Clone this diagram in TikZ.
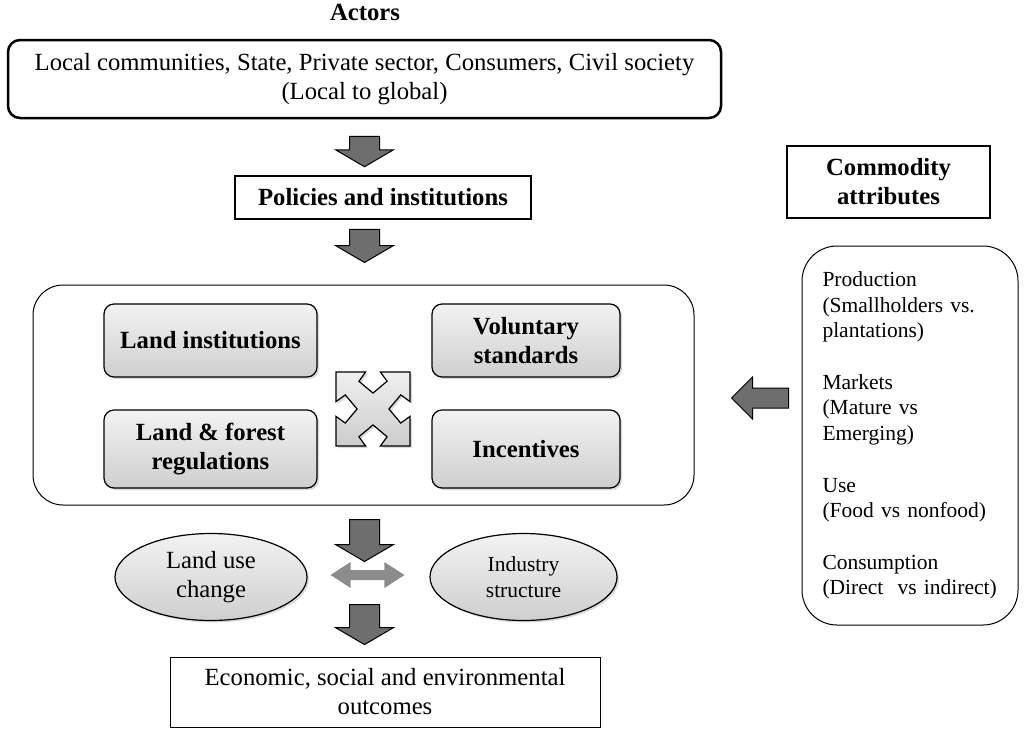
\documentclass[tikz,border=0pt]{standalone}
\usepackage{fontspec}
\setmainfont{Liberation Serif}
\usepackage{tikz}
\usetikzlibrary{shapes,calc,shadows}
\definecolor{arrowgray}{RGB}{110,110,110}
\definecolor{dblgray}{RGB}{140,140,140}
\tikzset{
  thickbox/.style={draw,line width=2.5pt,align=center,inner sep=2pt},
  graybox/.style={draw,line width=1.2pt,rounded corners=10pt,align=center,
    top color=gray!10,bottom color=gray!38,
    drop shadow={shadow xshift=2pt,shadow yshift=-2pt,opacity=0.3}},
  grayellipse/.style={ellipse,draw,line width=1.2pt,align=center,inner sep=0pt,
    top color=gray!10,bottom color=gray!38,
    drop shadow={shadow xshift=2pt,shadow yshift=-2pt,opacity=0.3}},
  blockarrow/.style={fill=arrowgray,draw=black,line width=1pt,line join=miter},
  bigfont/.style={font=\fontsize{24.7}{29}\selectfont},
  midfont/.style={font=\fontsize{21.5}{25.7}\selectfont},
}
% down pointing block arrow from #1 (top of shaft) to #2 (tip)
\newcommand{\blockdown}[2]{%
  \draw[blockarrow] ($(#1)+(-15,0)$) -- ($(#1)+(15,0)$) -- ($(#2)+(15,-17)$)
    -- ($(#2)+(29,-17)$) -- (#2) -- ($(#2)+(-29,-17)$) -- ($(#2)+(-15,-17)$) -- cycle;}

\begin{document}
\begin{tikzpicture}[x=1pt,y=-1pt]
        \useasboundingbox (0,0) rectangle (1024,734);

        %actors and policies
        \node[bigfont] (actorstitle) at (365,12) {\bfseries Actors};
        \node[thickbox,bigfont,rounded corners=12pt,minimum width=713,minimum height=78]
          (actors) at (364.5,79) {Local communities, State, Private sector, Consumers, Civil society\\(Local to global)};
        \node[thickbox,bigfont,minimum width=296,minimum height=43]
          (policies) at (383,197.5) {\bfseries Policies and institutions};

        %main box with the four instruments
        \node[draw,line width=1pt,rounded corners=30pt,minimum width=661,minimum height=220]
          (bigbox) at (363.5,395) {};
        \node[graybox,bigfont,minimum width=213,minimum height=73] (landinst) at (210.5,340.5) {\bfseries Land institutions};
        \node[graybox,bigfont,minimum width=188,minimum height=73] (volstd) at (526,340.5) {\bfseries Voluntary\\\bfseries standards};
        \node[graybox,bigfont,minimum width=213,minimum height=78] (landforest) at (210.5,449) {\bfseries Land \& forest\\\bfseries regulations};
        \node[graybox,bigfont,minimum width=188,minimum height=78] (incentives) at (526,449) {\bfseries Incentives};

        %four way arrow in the middle
        \coordinate (fourway) at (373,409);
        \draw[line width=1.2pt,line join=miter,top color=gray!12,bottom color=gray!40,
          drop shadow={shadow xshift=2pt,shadow yshift=-2pt,opacity=0.3}]
          [shift={(fourway)},scale=37]
          (0,-0.43) -- (-0.38,-0.75) -- (-0.2,-1) -- (-1,-1) -- (-1,-0.2) -- (-0.75,-0.38)
          -- (-0.43,0) -- (-0.75,0.38) -- (-1,0.2) -- (-1,1) -- (-0.2,1) -- (-0.38,0.75)
          -- (0,0.43) -- (0.38,0.75) -- (0.2,1) -- (1,1) -- (1,0.2) -- (0.75,0.38)
          -- (0.43,0) -- (0.75,-0.38) -- (1,-0.2) -- (1,-1) -- (0.2,-1) -- (0.38,-0.75) -- cycle;

        %outcomes
        \node[grayellipse,bigfont,minimum width=192,minimum height=87] (landuse) at (211,577) {Land use\\change};
        \node[grayellipse,midfont,minimum width=187,minimum height=87] (industry) at (523.5,577) {Industry\\structure};
        \node[draw,line width=0.8pt,bigfont,align=center,minimum width=430,minimum height=70]
          (outcomes) at (385,692) {Economic, social and environmental\\outcomes};

        %commodity attributes
        \node[thickbox,bigfont,minimum width=203,minimum height=72] (commodity) at (888.5,182) {\bfseries Commodity\\\bfseries attributes};
        \node[draw,line width=1pt,rounded corners=35pt,minimum width=216,minimum height=379]
          (attrbox) at (910,435.5) {};
        \node[midfont,text width=175,align=left,inner sep=0pt] (attrtext) at (attrbox.center)
          {Production\\(Smallholders vs.\\plantations)\\[25.7pt]Markets\\(Mature vs\\Emerging)\\[25.7pt]Use\\(Food vs nonfood)\\[25.7pt]Consumption\\(Direct\ \ vs indirect)};

        %block arrows
        \coordinate (a1top) at ($(actors.south)+(0,17)$);
        \coordinate (a1tip) at ($(actors.south |- policies.north)+(0,-8)$);
        \coordinate (a2top) at ($(actors.south |- policies.south)+(0,9)$);
        \coordinate (a2tip) at ($(actors.south |- bigbox.north)+(0,-22)$);
        \coordinate (a3top) at ($(actors.south |- bigbox.south)+(0,14)$);
        \coordinate (a3tip) at ($(a3top)+(0,42)$);
        \coordinate (a4top) at ($(actors.south |- outcomes.north)+(0,-52)$);
        \coordinate (a4tip) at ($(actors.south |- outcomes.north)+(0,-12)$);
        \blockdown{a1top}{a1tip}
        \blockdown{a2top}{a2tip}
        \blockdown{a3top}{a3tip}
        \blockdown{a4top}{a4tip}

        %double arrow between land use and industry
        \coordinate (dl) at ($(landuse.east)+(23,-2)$);
        \coordinate (dr) at ($(industry.west)+(-25,-2)$);
        \fill[dblgray] (dl) -- ++(20,-13) -- ++(0,8) -- ($(dr)+(-20,-5)$) -- ++(0,-8) -- (dr)
          -- ++(-20,13) -- ++(0,-8) -- ($(dl)+(20,5)$) -- ++(0,8) -- cycle;

        %arrow from the attributes to the main box
        \coordinate (lt) at ($(attrbox.west)+(-70,-37.5)$);
        \draw[blockarrow] (lt) -- ++(21,-21) -- ++(0,11) -- ++(36,0) -- ++(0,20)
          -- ++(-36,0) -- ++(0,11) -- cycle;
\end{tikzpicture}
\end{document}
